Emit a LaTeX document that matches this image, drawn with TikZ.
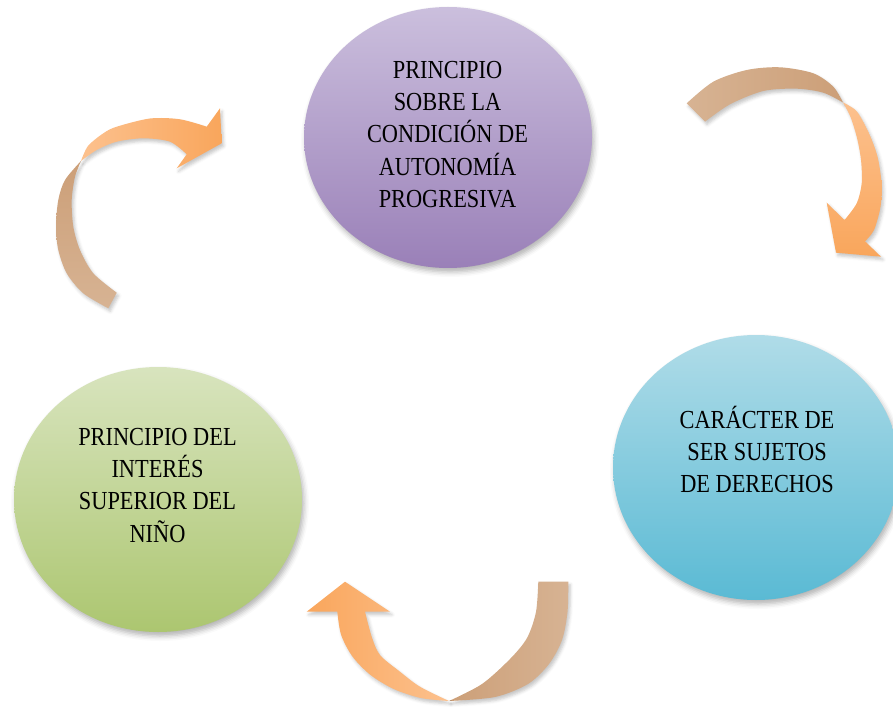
\documentclass[tikz,border=0pt]{standalone}
\usepackage{fontspec}
\setmainfont{Liberation Serif}[FakeStretch=0.86]
\usetikzlibrary{shapes.geometric,shadows.blur}
\definecolor{purT}{HTML}{CBBFDD}
\definecolor{purB}{HTML}{9A80B8}
\definecolor{bluT}{HTML}{B0DCE8}
\definecolor{bluB}{HTML}{5ABAD4}
\definecolor{grnT}{HTML}{D8E4BE}
\definecolor{grnB}{HTML}{ACC670}
\definecolor{tanL}{HTML}{D7B393}
\definecolor{tanD}{HTML}{CC9F78}
\definecolor{orL}{HTML}{FCC18E}
\definecolor{orD}{HTML}{F9A65C}
\begin{document}
\begin{tikzpicture}[x=1pt,y=-1pt,
  bubble/.style={ellipse, inner sep=0pt, draw=none,
    blur shadow={shadow xshift=2pt, shadow yshift=-4pt, shadow blur radius=5pt, shadow opacity=30}},
  txt/.style={align=center, inner sep=0pt, anchor=north, font=\fontsize{26}{32.3}\selectfont, text=black},
  arrshadow/.style={blur shadow={shadow xshift=2pt, shadow yshift=-3pt, shadow blur radius=3pt, shadow opacity=22}}
]
\useasboundingbox (0,0) rectangle (893,708);

% ---- ellipses ----
\node[bubble, top color=purT, bottom color=purB, minimum width=288pt, minimum height=261pt] (p1) at (448,137.5) {};
\node[bubble, top color=bluT, bottom color=bluB, minimum width=286pt, minimum height=265pt] (p2) at (756,467.5) {};
\node[bubble, top color=grnT, bottom color=grnB, minimum width=288pt, minimum height=265pt] (p3) at (158,499.5) {};

\node[txt] (t1) at (447.5,55.4) {\strut PRINCIPIO\\SOBRE LA\\CONDICIÓN DE\\AUTONOMÍA\\PROGRESIVA};
\node[txt] (t2) at (757,405.4) {\strut CARÁCTER DE\\SER SUJETOS\\DE DERECHOS};
\node[txt] (t3) at (157.5,422.4) {\strut PRINCIPIO DEL\\INTERÉS\\SUPERIOR DEL\\NIÑO};

% ---- arrow A (top right) ----
\shade[arrshadow, left color=tanL, right color=tanD]
  plot[smooth] coordinates {(686.7,103.3) (713.3,81.7) (746.7,70) (780,67.3) (813.3,73.3) (833.3,86.7) (843,102.5)}
  -- plot[smooth] coordinates {(843,102.5) (823.3,92.7) (796.7,88.7) (763.3,91) (730,104.3) (705,121.7)}
  -- cycle;
\shade[arrshadow, top color=orL, bottom color=orD]
  plot[smooth] coordinates {(843,102.5) (856.7,111.3) (869,133.3) (877.5,156.7) (881.5,183.3) (880.5,206.7) (874,230) (865,241.3)}
  -- (881,256.7) -- (836,252.7) -- (826.7,202.7) -- (844.5,220)
  -- plot[smooth] coordinates {(844.5,220) (856.7,203.3) (861.7,183.3) (861,160) (857,138) (850.5,117) (843,102.5)}
  -- cycle;

% ---- arrow B (top left) ----
\shade[arrshadow, bottom color=tanL, top color=tanD]
  plot[smooth] coordinates {(108.3,308.3) (83.3,293.3) (66.7,273.3) (58.3,250) (56,226.7) (58.3,200) (65,180) (81,161)}
  -- plot[smooth] coordinates {(81,161) (75,176.7) (71.7,200) (73.3,226.7) (80,250) (93.3,273.3) (116.7,292.7)}
  -- cycle;
\shade[arrshadow, left color=orL, right color=orD]
  plot[smooth] coordinates {(81,161) (88,146) (103.3,133.3) (116.7,126.7) (150,118.5) (180,119.3) (206.7,126.7)}
  -- (220,108.3) -- (221.7,143.3) -- (176.7,168.3) -- (186.7,154.3)
  -- plot[smooth] coordinates {(186.7,154.3) (170,141.7) (143.3,138.3) (116.7,141.7) (96.7,150) (81,161)}
  -- cycle;

% ---- arrow C (bottom) ----
\shade[arrshadow, right color=tanL, left color=tanD]
  (538.3,581.7) -- (568.3,581.7)
  -- plot[smooth] coordinates {(568.3,581.7) (567.5,612) (562,640) (549,664) (528,684) (495,697) (449,701)}
  -- plot[smooth] coordinates {(449,701) (482,684) (510,659) (527,638) (536,612) (538.3,581.7)}
  -- cycle;
\shade[arrshadow, right color=orL, left color=orD]
  plot[smooth] coordinates {(449,701) (420.8,698) (393.7,689) (370.3,674.8) (352.4,656.4) (341.1,634.8) (337.3,611.7)}
  -- (306.7,611.7) -- (345,581.7) -- (390,611.7) -- (365,611.7)
  -- plot[smooth] coordinates {(365,611.7) (371.7,636.7) (380,655) (400,671.7) (420,686.7) (449,701)}
  -- cycle;
\end{tikzpicture}
\end{document}
